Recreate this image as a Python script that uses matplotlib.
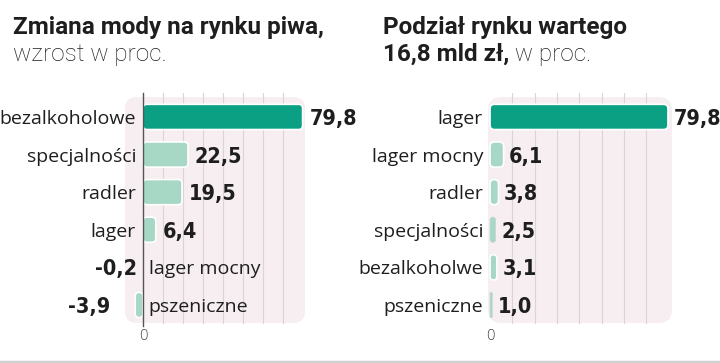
import matplotlib
matplotlib.use("Agg")
import matplotlib.pyplot as plt
from matplotlib.patches import FancyBboxPatch

# dane
left_cats = ["bezalkoholowe", "specjalności", "radler", "lager", "lager mocny", "pszeniczne"]
left_vals = [79.8, 22.5, 19.5, 6.4, -0.2, -3.9]
left_labels = ["79,8", "22,5", "19,5", "6,4", "-0,2", "-3,9"]

right_cats = ["lager", "lager mocny", "radler", "specjalności", "bezalkoholwe", "pszeniczne"]
right_vals = [79.8, 6.1, 3.8, 2.5, 3.1, 1.0]
right_labels = ["79,8", "6,1", "3,8", "2,5", "3,1", "1,0"]

grid_ticks = [10, 20, 30, 40, 50, 60, 70]

DARK = "#0b9f83"
LIGHT = "#a6d8c5"
PANEL = "#f6eef0"
GRID = "#dcd3d6"
TXT = "#1e1e1e"

VAL_FONT = dict(family=["DejaVu Sans"], fontstretch="condensed", fontweight="bold", fontsize=15.5, color=TXT)
CAT_FONT = dict(family=["Open Sans", "DejaVu Sans"], fontsize=14, color=TXT)

W, H = 720, 363
fig = plt.figure(figsize=(7.2, 3.63), dpi=100)


def px_axes(x0, x1, y0, y1):
    return fig.add_axes([x0 / W, 1 - y1 / H, (x1 - x0) / W, (y1 - y0) / H])


def draw_panel(ax, cats, vals, labels, xlim, zero_line, neg_offsets, val_pad):
    ax.set_xlim(*xlim)
    ax.set_ylim(5.48, -0.53)
    ax.set_facecolor("none")
    for s in ax.spines.values():
        s.set_visible(False)

    # tło z zaokrąglonymi rogami
    x_px = (ax.get_position().width * W) / (xlim[1] - xlim[0])
    y_px = (ax.get_position().height * H) / 6.01
    asp = x_px / y_px
    bg = FancyBboxPatch((xlim[0], -0.53), xlim[1] - xlim[0], 6.01,
                        boxstyle="round,pad=0,rounding_size=6", mutation_aspect=asp,
                        fc=PANEL, ec="none", zorder=0, clip_on=False)
    ax.add_patch(bg)
    for t in grid_ticks:
        ax.plot([t, t], [-0.64, 5.48], color=GRID, lw=0.8, zorder=1, clip_on=False)
    if zero_line:
        ax.plot([0, 0], [-0.64, 5.55], color="#555555", lw=1.0, zorder=4, clip_on=False)

    bars = ax.barh(range(len(vals)), vals, height=0.67, color="none")
    for i, (b, v) in enumerate(zip(bars, vals)):
        color = DARK if i == 0 else LIGHT
        x0, w = b.get_x(), b.get_width()
        if w < 0:
            x0, w = x0 + w, -w
        if w > 0.5:
            r = min(2.0, w / 2)
            small = w * x_px < 6
            p = FancyBboxPatch((x0, b.get_y()), w, b.get_height(),
                               boxstyle=f"round,pad=0,rounding_size={r}", mutation_aspect=asp,
                               fc=color, ec="#c9d6d1" if small else "white",
                               lw=0.6 if small else 1.2, zorder=3)
            ax.add_patch(p)
        if v >= 0:
            ax.annotate(labels[i], (x0 + w, i), xytext=(val_pad, 0), textcoords="offset points",
                        ha="left", va="center_baseline", **VAL_FONT)
            ax.annotate(cats[i], (0, i), xytext=(-5, 0), textcoords="offset points",
                        ha="right", va="center_baseline", **CAT_FONT)
        else:
            ax.annotate(labels[i], (x0, i), xytext=(neg_offsets[i], 0), textcoords="offset points",
                        ha="right", va="center_baseline", **VAL_FONT)
            ax.annotate(cats[i], (0, i), xytext=(4, 0), textcoords="offset points",
                        ha="left", va="center_baseline", **CAT_FONT)

    ax.set_xticks([0])
    ax.set_xticklabels(["0"], family=["Open Sans", "DejaVu Sans"], fontweight="light",
                       fontsize=10.5, color="#444444")
    ax.tick_params(axis="x", length=0, pad=4)
    ax.set_yticks([])


axL = px_axes(125, 305, 97, 323)
draw_panel(axL, left_cats, left_vals, left_labels, (-9, 81), True, [0, 0, 0, 0, -4, -18], 5)

axR = px_axes(488, 672, 97, 323)
draw_panel(axR, right_cats, right_vals, right_labels, (-0.9, 81.6), False, [0] * 6, 4)

# tytuły
TB = dict(family=["Roboto", "DejaVu Sans"], fontweight="bold", fontsize=17.5, color=TXT)
TL = dict(family=["Roboto", "DejaVu Sans"], fontweight="light", fontsize=17.5, color=TXT)
fig.text(13 / W, 1 - 34 / H, "Zmiana mody na rynku piwa,", ha="left", va="baseline", **TB)
fig.text(13 / W, 1 - 61 / H, "wzrost w proc.", ha="left", va="baseline", **TL)
fig.text(383 / W, 1 - 34 / H, "Podział rynku wartego", ha="left", va="baseline", **TB)
t2 = fig.text(383 / W, 1 - 61 / H, "16,8 mld zł,", ha="left", va="baseline", **TB)
fig.canvas.draw()
bb = t2.get_window_extent()
fig.text(bb.x1 / W, 1 - 61 / H, " w proc.", ha="left", va="baseline", **TL)

# linia na dole
fig.add_artist(plt.Line2D([0, 1], [1.5 / H, 1.5 / H], color="#d0d0d0", lw=2.5))

fig.savefig("out.png", dpi=100, facecolor="white")
